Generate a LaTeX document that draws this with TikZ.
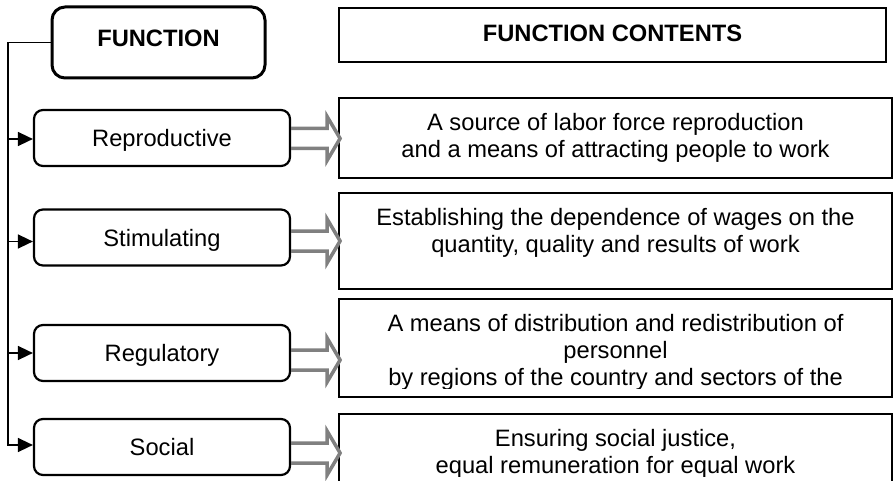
\documentclass[tikz,border=0pt]{standalone}
\usepackage{fontspec}
\setmainfont{Liberation Sans}
\usetikzlibrary{arrows.meta,calc}
\definecolor{arrgray}{HTML}{808080}
\newcommand\hollowarrow[3]{%
  \draw[hollow] ($(#1.east)+(0,#3-10)$) -- ++(36,0) -- ++(0,-12) -- ++(13,22)
    -- ++(-13,22) -- ++(0,-12) -- ++(-36,0);}
\begin{document}
\begin{tikzpicture}[x=1pt,y=-1pt,
  every node/.style={font=\fontsize{23.7}{26.7}\selectfont},
  headbox/.style={draw, line width=3pt, rounded corners=13pt, minimum width=213pt,
    minimum height=71pt, inner sep=0pt, font=\fontsize{23.7}{26.7}\selectfont\bfseries},
  fbox/.style={draw, line width=2.2pt, rounded corners=9pt, minimum width=256pt,
    minimum height=56pt, inner sep=0pt, text height=17pt, text depth=0pt},
  cbox/.style={draw, line width=2pt, minimum width=553pt, inner sep=0pt},
  ctext/.style={align=center, inner sep=0pt, anchor=north},
  conn/.style={line width=1.5pt},
  connarr/.style={conn, -{Triangle[length=15pt,width=14pt]}},
  hollow/.style={draw=arrgray, line width=3.5pt, line join=miter}
]
\useasboundingbox (0,0) rectangle (893,481);

% left column
\node[headbox, text height=17pt, text depth=8pt] (fn) at (158.5,42.5) {FUNCTION};
\node[fbox] (rep)  at (162,138)   {Reproductive};
\node[fbox] (stim) at (162,237.5) {Stimulating};
\node[fbox] (reg)  at (162,353)   {Regulatory};
\node[fbox] (soc)  at (162,447)   {Social};

% right column
\node[draw, line width=2pt, minimum width=547pt, minimum height=54pt, inner sep=0pt,
  text height=17pt, text depth=4pt, font=\fontsize{23.7}{26.7}\selectfont\bfseries]
  (fc) at (612.5,35) {FUNCTION CONTENTS};
\node[cbox, minimum height=80pt] (c1) at (615.5,138) {};
\node[cbox, minimum height=96pt] (c2) at (615.5,241) {};
\node[cbox, minimum height=98pt] (c3) at (615.5,348) {};
\node[cbox, minimum height=71pt] (c4) at (615.5,449.5) {};

\begin{scope}
  \clip (c1.north west) rectangle ($(c1.south east)+(0,-8)$);
  \node[ctext] (t1) at ($(c1.north)+(0,13.5)$)
    {\rule{0pt}{20pt}A source of labor force reproduction\\and a means of attracting people to work};
\end{scope}
\begin{scope}
  \clip (c2.north west) rectangle ($(c2.south east)+(0,-8)$);
  \node[ctext] (t2) at ($(c2.north)+(0,13.5)$)
    {\rule{0pt}{20pt}Establishing the dependence of wages on the\\quantity, quality and results of work};
\end{scope}
\begin{scope}
  \clip (c3.north west) rectangle ($(c3.south east)+(0,-10)$);
  \node[ctext] (t3) at ($(c3.north)+(0,13.5)$)
    {\rule{0pt}{20pt}A means of distribution and redistribution of\\personnel\\by regions of the country and sectors of the};
\end{scope}
\begin{scope}
  \clip (c4.north west) rectangle ($(c4.south east)+(0,-10)$);
  \node[ctext] (t4) at ($(c4.north)+(0,13.5)$)
    {\rule{0pt}{20pt}Ensuring social justice,\\equal remuneration for equal work};
\end{scope}

% tree connectors
\coordinate (trunk) at (8,0);
\coordinate (e1) at ($(rep.west)+(0,1)$);
\coordinate (e2) at ($(stim.west)+(0,4)$);
\coordinate (e3) at ($(reg.west)+(0,0)$);
\coordinate (e4) at ($(soc.west)+(0,-2)$);
\draw[connarr] (fn.west) -- (fn.west -| trunk) |- (e4);
\draw[connarr] (e1 -| trunk) -- (e1);
\draw[connarr] (e2 -| trunk) -- (e2);
\draw[connarr] (e3 -| trunk) -- (e3);

% hollow arrows
\hollowarrow{rep}{c1}{0.5}
\hollowarrow{stim}{c2}{3.5}
\hollowarrow{reg}{c3}{7}
\hollowarrow{soc}{c4}{6}
\end{tikzpicture}
\end{document}
